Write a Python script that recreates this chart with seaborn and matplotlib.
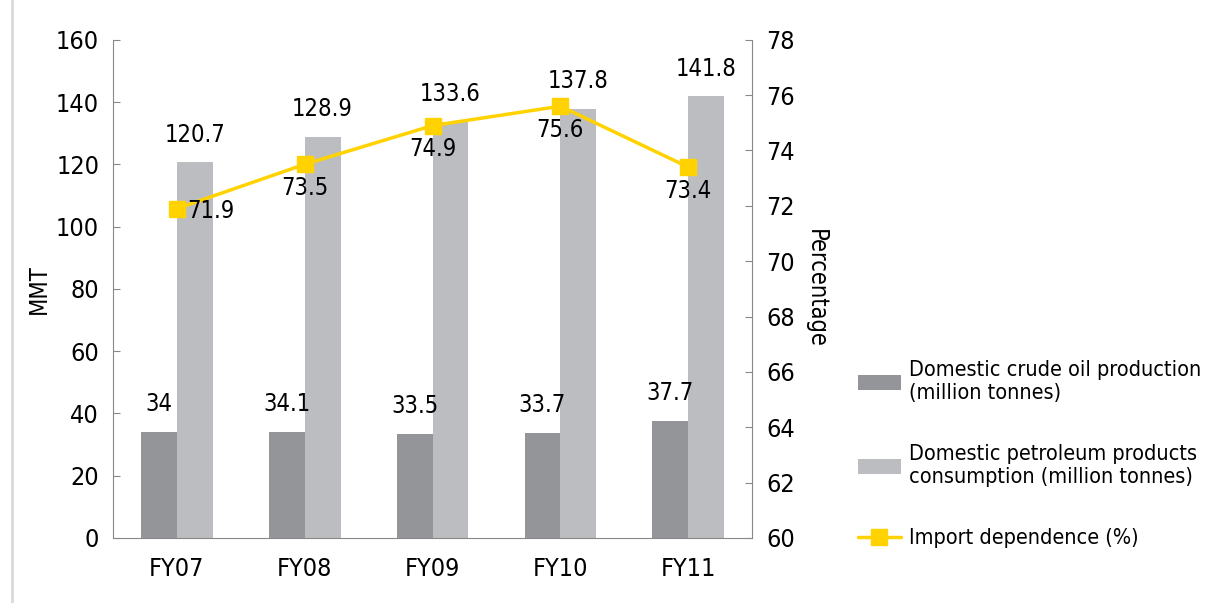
import matplotlib
matplotlib.use("Agg")
import matplotlib.pyplot as plt
from matplotlib.lines import Line2D
import seaborn as sns
import pandas as pd
import numpy as np

years = ["FY07", "FY08", "FY09", "FY10", "FY11"]
crude = [34, 34.1, 33.5, 33.7, 37.7]
consumption = [120.7, 128.9, 133.6, 137.8, 141.8]
import_dep = [71.9, 73.5, 74.9, 75.6, 73.4]
crude_labels = ["34", "34.1", "33.5", "33.7", "37.7"]

name_crude = "Domestic crude oil production\n(million tonnes)"
name_cons = "Domestic petroleum products\nconsumption (million tonnes)"
name_imp = "Import dependence (%)"

sns.set_style("white")
plt.rcParams['font.family'] = ['DejaVu Sans']
plt.rcParams['font.stretch'] = 'condensed'
plt.rcParams['text.color'] = 'black'
plt.rcParams['axes.labelcolor'] = 'black'

df = pd.DataFrame({
    "year": years * 2,
    "value": crude + consumption,
    "series": [name_crude] * 5 + [name_cons] * 5,
})

fig = plt.figure(figsize=(12.15, 6.03), dpi=100)
ax = fig.add_axes([0.093, 0.108, 0.526, 0.826])

sns.barplot(data=df, x="year", y="value", hue="series", ax=ax,
            palette=["#939598", "#bcbdc0"], width=0.56, saturation=1,
            edgecolor="none")
ax.set_ylim(0, 160)
ax.set_xlim(-0.5, 4.5)
ax.set_yticks(range(0, 161, 20))
ax.set_ylabel("MMT", fontsize=17)
ax.set_xlabel("")
ax.tick_params(axis="y", direction="in", length=5, color="#888888", labelcolor="black",
               labelsize=18, pad=10)
ax.tick_params(axis="x", length=0, labelsize=18, labelcolor="black", pad=14)
ax.set_xticks(np.arange(0.5, 4.5, 1), minor=True)
ax.tick_params(axis="x", which="minor", direction="in", length=6, color="#888888")
for s in ["top", "right"]:
    ax.spines[s].set_visible(False)
for s in ["left", "bottom"]:
    ax.spines[s].set_color("#888888")
handles, labels = ax.get_legend_handles_labels()
ax.legend_.remove()

for i in range(len(years)):
    ax.text(i - 0.14, crude[i] + 5, crude_labels[i], ha="center", va="bottom", fontsize=17)
    ax.text(i + 0.14, consumption[i] + 5, str(consumption[i]), ha="center", va="bottom", fontsize=17)

ax2 = ax.twinx()
ax2.plot(range(len(years)), import_dep, color="#ffd200", lw=2.5, marker="s",
         markersize=12, label=name_imp)
ax2.set_ylim(60, 78)
ax2.set_yticks(range(60, 79, 2))
ax2.set_ylabel("Percentage", fontsize=17, rotation=270, labelpad=24)
ax2.tick_params(axis="y", direction="in", length=5, color="#888888", labelcolor="black",
                labelsize=18, pad=10)
ax2.spines["top"].set_visible(False)
ax2.spines["left"].set_visible(False)
ax2.spines["bottom"].set_visible(False)
ax2.spines["right"].set_color("#888888")

for i, v in enumerate(import_dep):
    if i == 0:
        ax2.text(i + 0.08, v - 0.1, str(v), ha="left", va="center", fontsize=17)
    else:
        ax2.text(i, v - 0.42, str(v), ha="center", va="top", fontsize=17)

h2, l2 = ax2.get_legend_handles_labels()
fig.legend(handles + h2, labels + l2, loc="upper left", bbox_to_anchor=(0.69, 0.435),
           frameon=False, fontsize=15.5, labelspacing=1.9, handlelength=2.0,
           handletextpad=0.4)

fig.add_artist(Line2D([0.01, 0.01], [0.0, 1.0], color="#d9d9d9", lw=2))

fig.savefig("out.png", dpi=100)
